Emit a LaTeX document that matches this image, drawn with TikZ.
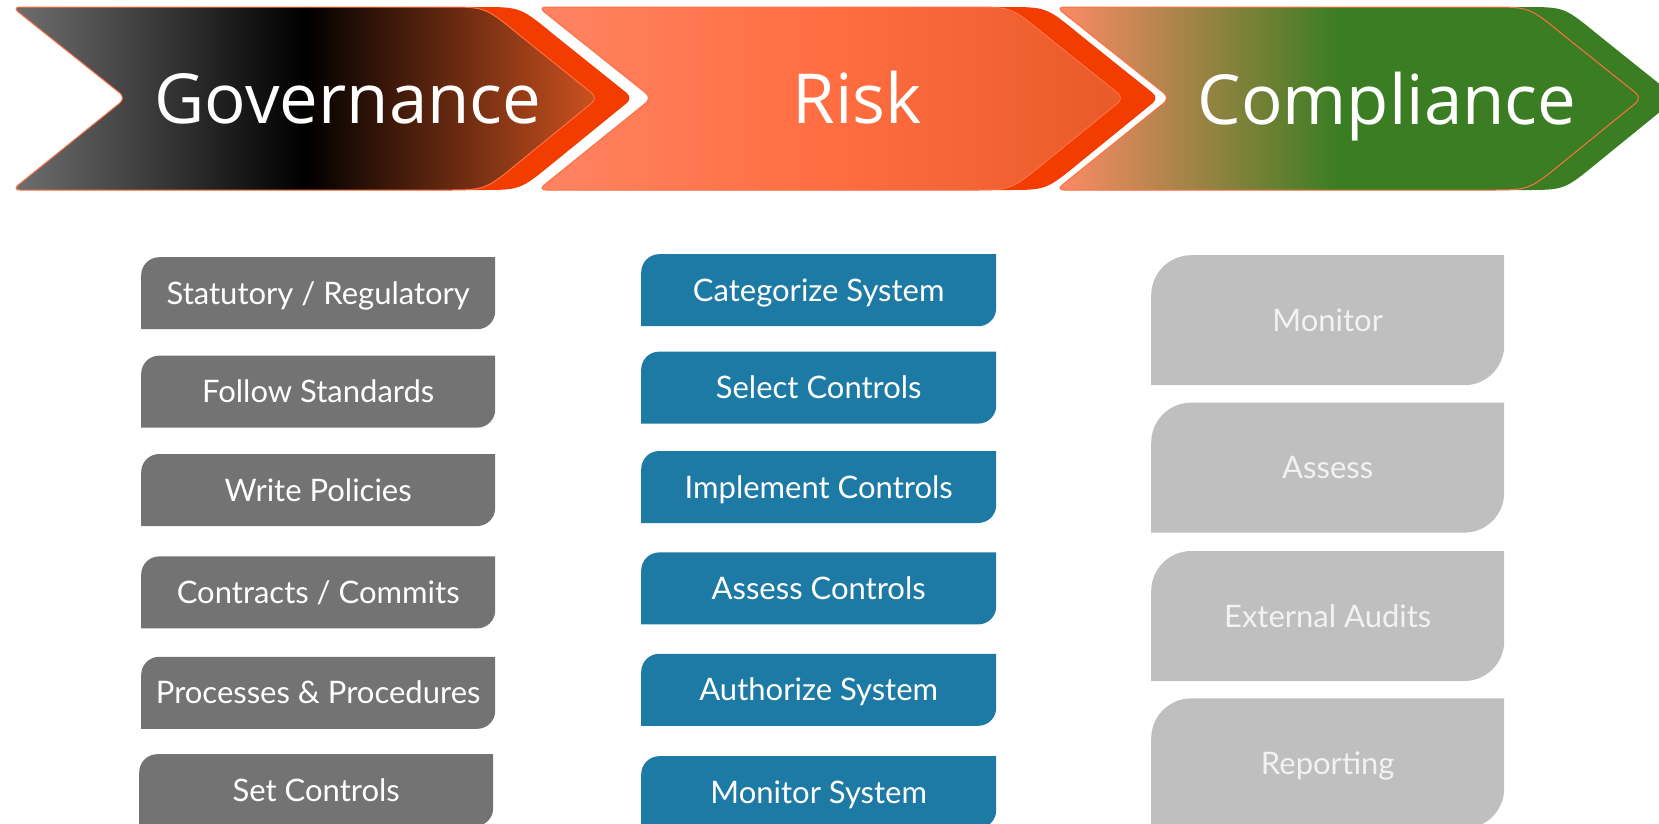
\documentclass[tikz,border=0pt]{standalone}
\usepackage{fontspec}
\newfontfamily\titlefont{Open Sans}
\newfontfamily\boxfont{Lato}
\usetikzlibrary{positioning}

\definecolor{govleft}{RGB}{112,112,112}
\definecolor{govright}{RGB}{205,82,32}
\definecolor{riskleft}{RGB}{255,132,99}
\definecolor{riskmid}{RGB}{255,109,64}
\definecolor{riskright}{RGB}{232,90,42}
\definecolor{compleft}{RGB}{255,138,102}
\definecolor{compgreen}{RGB}{59,125,35}
\definecolor{backred}{RGB}{242,60,0}
\definecolor{edgeorange}{RGB}{255,112,67}
\definecolor{govgray}{RGB}{115,115,115}
\definecolor{riskblue}{RGB}{29,122,164}
\definecolor{complight}{RGB}{191,191,191}

\pgfdeclarehorizontalshading{govshade}{100bp}{color(0bp)=(govleft); color(25bp)=(govleft); color(50bp)=(black); color(75bp)=(govright); color(100bp)=(govright)}
\pgfdeclarehorizontalshading{riskshade}{100bp}{color(0bp)=(riskleft); color(25bp)=(riskleft); color(50bp)=(riskmid); color(75bp)=(riskright); color(100bp)=(riskright)}
\pgfdeclarehorizontalshading{compshade}{100bp}{color(0bp)=(compleft); color(25bp)=(compleft); color(49bp)=(compgreen); color(100bp)=(compgreen)}

% one chevron, left edge at x offset #2
\newcommand{\chevronpath}[2]{\path[#1, xshift=#2] (200,-7) -- (425,-7) .. controls (473,-7) .. (511,-38) -- (586,-98) -- (511,-159) .. controls (473,-190) .. (425,-190) -- (0,-190) -- (114,-98) -- (0,-7) -- cycle;}

\begin{document}
\begin{tikzpicture}[
        x=1pt, y=1pt,
        chevback/.style={fill=#1, rounded corners=8pt},
        chevfront/.style={shading=#1, shade, draw=edgeorange, line width=1pt, rounded corners=8pt},
        title/.style={text=white, anchor=base, inner sep=0pt, font=\titlefont\fontsize{69}{69}\selectfont},
        diagbox/.style 2 args={inner sep=0pt, text=white, text height=22pt, text depth=0pt,
          font=\boxfont\fontsize{31}{31}\selectfont,
          path picture={\fill[#1] (path picture bounding box.south west) -- ([yshift=-#2]path picture bounding box.north west)
            arc[start angle=180, end angle=90, radius=#2] -- (path picture bounding box.north east)
            -- ([yshift=#2]path picture bounding box.south east) arc[start angle=0, end angle=-90, radius=#2] -- cycle;}},
        govbox/.style={diagbox={govgray}{18pt}, minimum width=354pt, minimum height=72pt},
        riskbox/.style={diagbox={riskblue}{18pt}, minimum width=355pt, minimum height=72pt},
        compbox/.style={diagbox={complight}{40pt}, minimum width=353pt, minimum height=130pt, text=white!95!black}
      ]
      \useasboundingbox (0,0) rectangle (1659,-823);
      \clip (0,0) rectangle (1659,-823);

      % chevrons
      \chevronpath{chevback=backred}{47pt}
      \chevronpath{chevfront=govshade}{12pt}
      \chevronpath{chevback=backred}{573pt}
      \chevronpath{chevfront=riskshade}{538pt}
      \chevronpath{chevback=compgreen}{1091pt}
      \chevronpath{chevfront=compshade}{1056pt}

      \node (govtitle) [title] at (348,-123) {Governance};
      \node (risktitle) [title] at (857,-123) {Risk};
      \node (comptitle) [title] at (1387,-124) {Compliance};

      % governance column
      \node (gov1) [govbox, anchor=north west] at (141,-257) {Statutory / Regulatory};
      \node (gov2) [govbox, below=26pt of gov1] {Follow Standards};
      \node (gov3) [govbox, below=26pt of gov2] {Write Policies};
      \node (gov4) [govbox, below=30pt of gov3] {Contracts / Commits};
      \node (gov5) [govbox, below=28pt of gov4] {Processes \& Procedures};
      \node (gov6) [govbox, below=25pt of gov5, xshift=-2pt] {Set Controls};

      % risk column
      \node (risk1) [riskbox, anchor=north west] at (641,-254) {Categorize System};
      \node (risk2) [riskbox, below=25pt of risk1] {Select Controls};
      \node (risk3) [riskbox, below=27pt of risk2] {Implement Controls};
      \node (risk4) [riskbox, below=29pt of risk3] {Assess Controls};
      \node (risk5) [riskbox, below=29pt of risk4] {Authorize System};
      \node (risk6) [riskbox, below=30pt of risk5] {Monitor System};

      % compliance column
      \node (comp1) [compbox, anchor=north west] at (1151,-255) {Monitor};
      \node (comp2) [compbox, below=17pt of comp1] {Assess};
      \node (comp3) [compbox, below=18pt of comp2] {External Audits};
      \node (comp4) [compbox, below=17pt of comp3] {Reporting};

    \end{tikzpicture}
\end{document}
